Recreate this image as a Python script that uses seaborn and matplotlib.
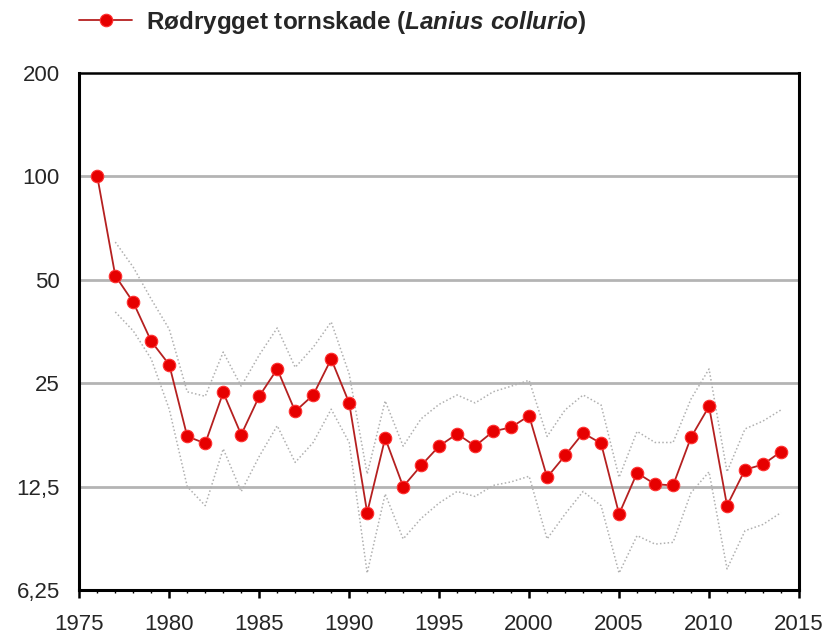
import pandas as pd
import matplotlib.pyplot as plt
import seaborn as sns
from matplotlib.ticker import FixedLocator, MultipleLocator

sns.set_theme(style="white")
plt.rcParams['font.family'] = ['Liberation Sans', 'DejaVu Sans']
plt.rcParams['mathtext.fontset'] = 'custom'
plt.rcParams['mathtext.rm'] = 'Liberation Sans:bold'
plt.rcParams['mathtext.bf'] = 'Liberation Sans:bold'
plt.rcParams['mathtext.it'] = 'Liberation Sans:italic:bold'
plt.rcParams['mathtext.bfit'] = 'Liberation Sans:italic:bold'

# index values (1976 = 100)
years = list(range(1976, 2015))
index = [100, 51.4, 43.0, 33.1, 28.3, 17.5, 16.7, 23.5, 17.7, 22.9,
         27.5, 20.7, 23.1, 29.4, 21.9, 10.5, 17.3, 12.5, 14.4, 16.4,
         17.8, 16.4, 18.1, 18.6, 20.1, 13.3, 15.4, 17.9, 16.7, 10.4,
         13.7, 12.7, 12.6, 17.4, 21.4, 11.0, 14.0, 14.5, 15.8]

# confidence limits, from 1977
ci_years = list(range(1977, 2015))
upper = [64.4, 54.4, 43.9, 35.9, 23.6, 22.9, 30.8, 24.5, 30.2, 36.2,
         27.8, 31.8, 37.7, 26.6, 13.6, 22.2, 16.4, 19.7, 21.7, 23.1,
         21.9, 23.6, 24.5, 25.5, 17.5, 20.9, 23.1, 21.6, 13.3, 18.1,
         16.8, 16.8, 22.5, 27.5, 13.8, 18.4, 19.4, 20.9]
lower = [40.3, 35.5, 29.4, 21.0, 12.5, 11.0, 16.1, 12.1, 15.3, 18.8,
         14.7, 16.8, 21.0, 16.8, 7.0, 11.9, 8.8, 10.1, 11.2, 12.1,
         11.7, 12.6, 12.9, 13.4, 8.8, 10.4, 12.1, 11.0, 7.0, 9.0,
         8.5, 8.6, 12.0, 13.8, 7.2, 9.3, 9.7, 10.5]

ytick_vals = [6.25, 12.5, 25, 50, 100, 200]
ytick_labels = ["6,25", "12,5", "25", "50", "100", "200"]
xtick_vals = [1975, 1980, 1985, 1990, 1995, 2000, 2005, 2010, 2015]

df = pd.DataFrame({"year": years, "index": index})
ci = pd.DataFrame({"year": ci_years, "upper": upper, "lower": lower})

fig = plt.figure(figsize=(8.25, 6.35), dpi=100)
ax = fig.add_axes([0.0961, 0.0709, 0.8724, 0.8141])

sns.lineplot(data=ci, x="year", y="upper", ax=ax, color="#b0b0b0",
             linestyle=(0, (1, 1.5)), linewidth=1.1)
sns.lineplot(data=ci, x="year", y="lower", ax=ax, color="#b0b0b0",
             linestyle=(0, (1, 1.5)), linewidth=1.1)
sns.lineplot(data=df, x="year", y="index", ax=ax, color="#b52020",
             linewidth=1.3, marker="o", markersize=9,
             markerfacecolor="#e60000", markeredgecolor="#ff3030",
             markeredgewidth=0.8,
             label=r"Rødrygget tornskade ($\mathit{Lanius\ collurio}$)")

ax.set_yscale("log", base=2)
ax.set_ylim(6.25, 200)
ax.set_xlim(1975, 2015)
ax.yaxis.set_major_locator(FixedLocator(ytick_vals))
ax.yaxis.set_minor_locator(FixedLocator([]))
ax.set_yticklabels(ytick_labels)
ax.set_xticks(xtick_vals)
ax.xaxis.set_minor_locator(MultipleLocator(1))

for v in ytick_vals[1:-1]:
    ax.axhline(v, color="#b4b4b4", linewidth=2, zorder=0)

for s in ["left", "right", "bottom"]:
    ax.spines[s].set_color("black")
    ax.spines[s].set_linewidth(2.2)
ax.spines["top"].set_color("black")
ax.spines["top"].set_linewidth(1.8)

ax.tick_params(axis="y", which="major", direction="out", length=6,
               width=1.5, color="black", labelsize=16, pad=8)
ax.tick_params(axis="x", which="major", direction="out", length=6,
               width=1.8, color="black", labelsize=16, pad=11, bottom=True)
ax.tick_params(axis="x", which="minor", direction="out", length=2.5,
               width=1.0, color="black", bottom=True)
ax.set_xlabel("")
ax.set_ylabel("")

ax.legend_.remove()
handles, labels = ax.get_legend_handles_labels()
fig.legend(handles, labels, loc="center left", bbox_to_anchor=(0.069, 0.965),
           frameon=False, handlelength=2.2, handletextpad=0.55,
           prop={"weight": "bold", "size": 17.5})

plt.savefig("out.png", dpi=100)
